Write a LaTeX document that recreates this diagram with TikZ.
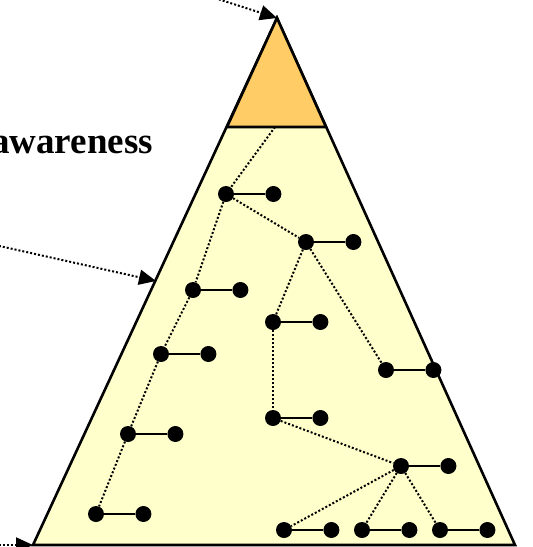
\documentclass[tikz,border=0pt]{standalone}
\usepackage{fontspec}
\setmainfont{Liberation Serif}
\usetikzlibrary{positioning,arrows.meta}
\definecolor{apexfill}{HTML}{FFCC66}
\definecolor{bodyfill}{HTML}{FFFFCC}

\begin{document}
\begin{tikzpicture}[x=1pt, y=-1pt,
  dot/.style={circle, fill=black, inner sep=0pt, minimum size=16pt},
  link/.style={line width=2.2pt},
  tree/.style={line width=2pt, dash pattern=on 2pt off 2pt},
  pointer/.style={line width=2pt, dash pattern=on 2pt off 2pt, -{Triangle[length=17pt, width=15pt]}},
  lbl/.style={font=\fontsize{37}{42}\selectfont\bfseries},
]
\useasboundingbox (0,0) rectangle (533,547);
\clip (0,0) rectangle (533,547);
% pyramid
\coordinate (apex) at (277,18);
\coordinate (bl) at (33,545);
\coordinate (br) at (515,545);
\coordinate (cl) at (227,127);
\coordinate (cr) at (326,127);
\coordinate (cm) at (275,127);
\coordinate (side) at (156,281);
\filldraw[fill=bodyfill, line width=2.6pt] (apex) -- (bl) -- (br) -- cycle;
\filldraw[fill=apexfill, line width=2.6pt] (apex) -- (cl) -- (cr) -- cycle;

% pairs
\node[dot] (p1) at (226,194) {};
\node[dot, right=31pt of p1] (p1r) {};
\node[dot] (p2) at (306,242) {};
\node[dot, right=31pt of p2] (p2r) {};
\node[dot] (p3) at (193,290) {};
\node[dot, right=31pt of p3] (p3r) {};
\node[dot] (p4) at (273,322) {};
\node[dot, right=31pt of p4] (p4r) {};
\node[dot] (p5) at (161,354) {};
\node[dot, right=31pt of p5] (p5r) {};
\node[dot] (p6) at (386,370) {};
\node[dot, right=31pt of p6] (p6r) {};
\node[dot] (p7) at (273,418) {};
\node[dot, right=31pt of p7] (p7r) {};
\node[dot] (p8) at (128,434) {};
\node[dot, right=31pt of p8] (p8r) {};
\node[dot] (p9) at (401,466) {};
\node[dot, right=31pt of p9] (p9r) {};
\node[dot] (p10) at (96,514) {};
\node[dot, right=31pt of p10] (p10r) {};
\node[dot] (p11) at (284,530) {};
\node[dot, right=31pt of p11] (p11r) {};
\node[dot] (p12) at (362,530) {};
\node[dot, right=31pt of p12] (p12r) {};
\node[dot] (p13) at (440,530) {};
\node[dot, right=31pt of p13] (p13r) {};
\foreach \i in {1,...,13}
  \draw[link] (p\i) -- (p\i r);

% hierarchy
\draw[tree] (cm) -- (p1);
\draw[tree] (p1) -- (p2);
\draw[tree] (p1) -- (p3);
\draw[tree] (p3) -- (p5);
\draw[tree] (p5) -- (p8);
\draw[tree] (p8) -- (p10);
\draw[tree] (p2) -- (p4);
\draw[tree] (p2) -- (p6);
\draw[tree] (p4) -- (p7);
\draw[tree] (p7) -- (p9);
\draw[tree] (p9) -- (p11);
\draw[tree] (p9) -- (p12);
\draw[tree] (p9) -- (p13);

% label and pointers
\node[lbl, anchor=base east, inner sep=0pt] (aware) at (153,153) {awareness};
\coordinate (from1) at (196,-8);
\coordinate (from2) at (-5,245);
\coordinate (from3) at (-5,545);
\draw[pointer] (from1) -- (apex);
\draw[pointer] (from2) -- (side);
\draw[pointer] (from3) -- (bl);
\end{tikzpicture}
\end{document}
